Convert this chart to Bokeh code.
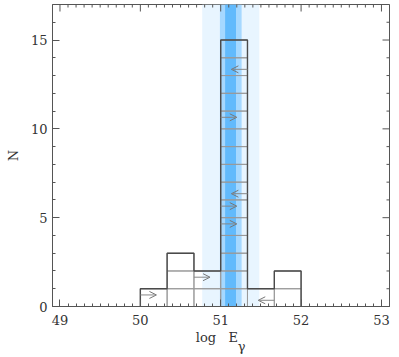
import numpy as np
from bokeh.plotting import figure
from bokeh.models import (Range1d, LinearAxis, FixedTicker, Arrow, OpenHead,
                          ColumnDataSource, BoxAnnotation)
from bokeh.embed import file_html
from bokeh.resources import INLINE

# ---- data ----
bin_edges = [50.0, 50.333, 50.667, 51.0, 51.333, 51.667, 52.0]
counts = [1, 3, 2, 15, 1, 2]

# limits: bin index, level inside the stack, direction (+1 -> right arrow, -1 -> left arrow)
lim_bin = [0, 2, 3, 3, 3, 3, 3, 4]
lim_level = [0.65, 1.65, 10.65, 5.65, 4.65, 13.35, 6.35, 0.35]
lim_dir = [1, 1, 1, 1, 1, -1, -1, -1]
arrow_len = 0.2

band_lo = [50.77, 50.99, 51.055]
band_hi = [51.48, 51.26, 51.19]
band_colors = ["#e8f5ff", "#a6d8ff", "#62bafc"]

x_ticks = [49, 50, 51, 52, 53]
x_minor = [round(v, 1) for v in np.arange(48.9, 53.15, 0.1) if abs(v - round(v)) > 1e-6]
y_ticks = [0, 5, 10, 15]
y_minor = [v for v in range(0, 17) if v % 5 != 0]

FONT = "DejaVu Serif"
AX = "#555555"
NB = "\u00a0"
X0, X1, Y0, Y1 = 48.907, 53.1, 0, 17

p = figure(width=398, height=356, x_range=Range1d(X0, X1), y_range=Range1d(Y0, Y1),
           output_backend="svg", toolbar_location=None,
           min_border_left=52, min_border_right=9, min_border_top=4, min_border_bottom=50,
           x_axis_type=None, y_axis_type=None)
p.xgrid.visible = False
p.ygrid.visible = False
p.outline_line_color = AX
p.background_fill_color = "white"
p.border_fill_color = "white"

def style_axis(ax):
    ax.major_tick_in = 7
    ax.major_tick_out = 0
    ax.minor_tick_in = 3
    ax.minor_tick_out = 0
    ax.axis_line_color = AX
    ax.major_tick_line_color = AX
    ax.minor_tick_line_color = AX
    ax.major_label_text_font = FONT
    ax.major_label_text_color = "#333333"
    ax.major_label_text_font_size = "13px"
    ax.axis_label_text_font = FONT
    ax.axis_label_text_font_style = "normal"
    ax.axis_label_text_color = "#333333"
    ax.axis_label_text_font_size = "13px"

# x label "log E" with a lowered gamma as a second, tightly spaced line
x_label = "log" + NB * 3 + "E" + NB * 2 + "\n" + NB * 10 + "γ"
xb = LinearAxis(ticker=FixedTicker(ticks=x_ticks, minor_ticks=x_minor), axis_label=x_label)
style_axis(xb)
xb.major_label_standoff = 8
xb.axis_label_standoff = 2
xb.axis_label_text_line_height = 0.6
p.add_layout(xb, "below")

yl = LinearAxis(ticker=FixedTicker(ticks=y_ticks, minor_ticks=y_minor), axis_label="N")
style_axis(yl)
yl.major_label_standoff = 5
yl.axis_label_standoff = 7
p.add_layout(yl, "left")

# bands
for lo, hi, c in zip(band_lo, band_hi, band_colors):
    p.add_layout(BoxAnnotation(left=lo, right=hi, fill_color=c, fill_alpha=1.0,
                               line_color=None, level="underlay"))

# individual boxes
bl, br, bb, bt = [], [], [], []
for i, c in enumerate(counts):
    for k in range(c):
        bl.append(bin_edges[i]); br.append(bin_edges[i + 1])
        bb.append(k); bt.append(k + 1)
p.quad(left=bl, right=br, bottom=bb, top=bt, fill_color=None,
       line_color="#9a9a9a", line_width=1)

# histogram outline
ox, oy = [bin_edges[0]], [0]
for i, c in enumerate(counts):
    ox += [bin_edges[i], bin_edges[i + 1]]
    oy += [c, c]
ox.append(bin_edges[-1]); oy.append(0)
p.line(ox, oy, line_color="#4a4a4a", line_width=1.4)

# limit arrows
xs, xe, ys = [], [], []
for b, lev, d in zip(lim_bin, lim_level, lim_dir):
    x0 = bin_edges[b] if d > 0 else bin_edges[b + 1]
    xs.append(x0); xe.append(x0 + d * arrow_len); ys.append(lev)
asrc = ColumnDataSource(dict(xs=xs, xe=xe, ys=ys))
p.add_layout(Arrow(end=OpenHead(size=7, line_color="#777777", line_width=1),
                   x_start="xs", y_start="ys", x_end="xe", y_end="ys", source=asrc,
                   line_color="#888888", line_width=1))

# mirrored ticks on top and right (dash markers centred on the frame edge, clipped to frame)
p.scatter(x=x_ticks, y=[Y1] * len(x_ticks), marker="dash", angle=np.pi / 2, size=14,
          line_color=AX, line_width=1)
p.scatter(x=x_minor, y=[Y1] * len(x_minor), marker="dash", angle=np.pi / 2, size=6,
          line_color=AX, line_width=1)
p.scatter(x=[X1] * len(y_ticks), y=y_ticks, marker="dash", size=14, line_color=AX, line_width=1)
p.scatter(x=[X1] * len(y_minor), y=y_minor, marker="dash", size=6, line_color=AX, line_width=1)

open("out.html", "w").write(file_html(p, INLINE))
